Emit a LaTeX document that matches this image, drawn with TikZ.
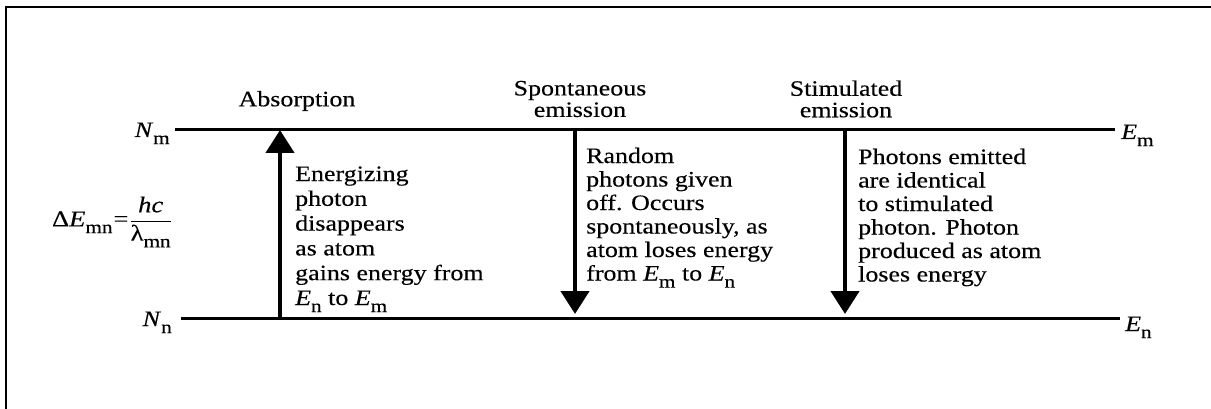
\documentclass[tikz,border=0pt]{standalone}
\usepackage{amsmath}
\usepackage{fontspec}
\setmainfont[FakeStretch=1.18,FakeBold=0.3]{Liberation Serif}
\usetikzlibrary{arrows.meta}
\newcommand{\lv}[2]{\textit{#1}\raisebox{-0.32em}{\fontsize{18}{18}\selectfont #2}}
\begin{document}
\begin{tikzpicture}[x=1pt,y=-1pt,
  every node/.style={inner sep=0pt, font=\fontsize{22}{24}\selectfont},
  level/.style={line width=3pt},
  trans/.style={line width=4.5pt, -{Triangle[width=28pt,length=23pt]}},
  descA/.style={anchor=base west, align=left, font=\fontsize{22}{24.8}\selectfont},
  descB/.style={anchor=base west, align=left, font=\fontsize{22}{23.5}\selectfont},
  head/.style={align=center, font=\fontsize{22}{21.5}\selectfont},
  lab/.style={font=\fontsize{22}{22}\selectfont},
]
\useasboundingbox (0,0) rectangle (1211,409);
\draw[line width=2pt] (6,409) -- (6,7) -- (1211,7);

% energy levels
\node[lab, anchor=base east] (Nm) at (170,137) {\lv{N}{m}};
\node[lab, anchor=base east] (Nn) at (172,326) {\lv{N}{n}};
\node[lab, anchor=base west] (Em) at (1121,139) {\lv{E}{m}};
\node[lab, anchor=base west] (En) at (1125,331) {\lv{E}{n}};
\coordinate (mL) at (175,130);
\coordinate (mR) at (1115,130);
\coordinate (nL) at (181,318);
\coordinate (nR) at (1120,318);
\draw[level] (mL) -- (mR);
\draw[level] (nL) -- (nR);

% formula
\node[font=\fontsize{22.5}{24}\selectfont] (dE) at (112,222) {Δ\textit{E}\raisebox{-0.3em}{\fontsize{18}{18}\selectfont mn}\hspace{1pt}=\hspace{1pt}$\dfrac{\mbox{\textit{hc}}}{\mbox{λ\raisebox{-0.3em}{\fontsize{18}{18}\selectfont mn}}}$};

% transitions
\coordinate (a1) at (280,318);
\coordinate (a2) at (280,130);
\coordinate (s1) at (575,130);
\coordinate (s2) at (575,314);
\coordinate (t1) at (845,130);
\coordinate (t2) at (845,314);
\draw[trans] (a1) -- (a2);
\draw[trans] (s1) -- (s2);
\draw[trans] (t1) -- (t2);

% headings
\node[head] (hA) at (297,101) {Absorption};
\node[head] (hS) at (580,99) {Spontaneous\\emission};
\node[head] (hT) at (846,99) {Stimulated\\emission};

% descriptions (anchor = baseline of the last line)
\node[descA] (dA) at (295,305) {Energizing\\photon\\disappears\\as atom\\gains energy from\\\lv{E}{n} to \lv{E}{m}};
\node[descB] (dS) at (586,280.5) {Random\\photons given\\off. Occurs\\spontaneously, as\\atom loses energy\\from \lv{E}{m} to \lv{E}{n}};
\node[descB] (dT) at (858,281.5) {Photons emitted\\are identical\\to stimulated\\photon. Photon\\produced as atom\\loses energy};
\end{tikzpicture}
\end{document}
